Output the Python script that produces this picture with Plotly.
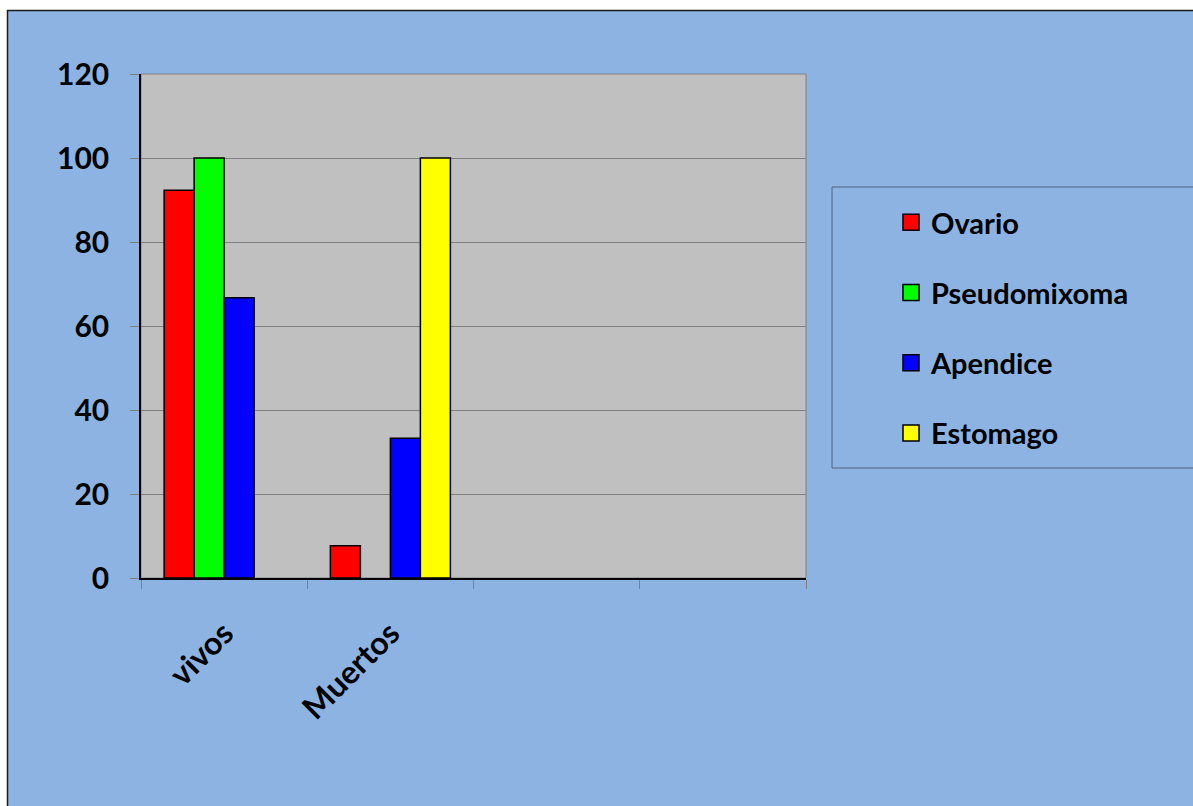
import plotly.graph_objects as go

# ---- data ----
categories = ["vivos", "Muertos", "c3", "c4"]
tick_labels = ["vivos", "Muertos", "", ""]
series_names = ["Ovario", "Pseudomixoma", "Apendice", "Estomago"]
ovario = [92.3, 7.7, None, None]
pseudomixoma = [100, 0, None, None]
apendice = [66.7, 33.3, None, None]
estomago = [0, 100, None, None]
colors = ["#FF0000", "#00FF00", "#0000FF", "#FFFF00"]

W, H = 1193, 806
L, R, T, B = 141, 806, 74, 578  # plot area pixel box


def px(x):
    return (x - L) / (R - L)


def py(y):
    return (B - y) / (B - T)


FONT = "Lato, 'Liberation Sans', Arial, sans-serif"

fig = go.Figure()
for name, vals, c in zip(series_names, [ovario, pseudomixoma, apendice, estomago], colors):
    widths = [1.5 if v else 0 for v in vals]
    fig.add_trace(go.Bar(x=categories, y=vals, name=name,
                         marker=dict(color=c, line=dict(color="black", width=widths)),
                         showlegend=False))
for name, c in zip(series_names, colors):
    fig.add_trace(go.Scatter(x=[None], y=[None], mode="markers", name=name, legendgroup=name,
                             marker=dict(symbol="square", size=17, color=c, line=dict(color="black", width=1.5))))

shapes = [
    # white strips outside the blue chart area
    dict(type="rect", xref="paper", yref="paper", x0=px(-20), x1=px(7), y0=py(900), y1=py(-20),
         fillcolor="white", line=dict(width=0), layer="below"),
    dict(type="rect", xref="paper", yref="paper", x0=px(-20), x1=px(1300), y0=py(10), y1=py(-20),
         fillcolor="white", line=dict(width=0), layer="below"),
    # chart border (top & left)
    dict(type="line", xref="paper", yref="paper", x0=px(7), x1=px(1300), y0=py(10.5), y1=py(10.5),
         line=dict(color="#1A1A1A", width=1.5)),
    dict(type="line", xref="paper", yref="paper", x0=px(7.5), x1=px(7.5), y0=py(10), y1=py(900),
         line=dict(color="#1A1A1A", width=1.5)),
    # plot area border
    dict(type="rect", xref="paper", yref="paper", x0=0, x1=1, y0=0, y1=1,
         line=dict(color="#808080", width=1), layer="below"),
    # legend box
    dict(type="rect", xref="paper", yref="paper", x0=px(832), x1=px(1300), y0=py(468), y1=py(187),
         line=dict(color="#4F6382", width=1), fillcolor="rgba(0,0,0,0)"),
]

fig.update_layout(
    width=W, height=H,
    margin=dict(l=L, r=W - R, t=T, b=H - B, pad=0),
    paper_bgcolor="#8DB3E2",
    plot_bgcolor="#C0C0C0",
    barmode="group",
    bargap=0.278,
    bargroupgap=0,
    shapes=shapes,
    font=dict(family=FONT, color="black"),
    legend=dict(x=px(891), xanchor="left", y=py(197), yanchor="top", bgcolor="rgba(0,0,0,0)",
                borderwidth=0, font=dict(size=29, family=FONT, weight="bold"), tracegroupgap=29.5,
                itemsizing="trace"),
    xaxis=dict(type="category", categoryorder="array", categoryarray=categories,
               tickvals=categories, ticktext=tick_labels, range=[-0.5, 3.5],
               tickson="boundaries", ticks="outside", ticklen=9, tickcolor="#808080",
               tickangle=-45, tickfont=dict(size=32, family=FONT, weight="bold"),
               ticklabelstandoff=22,
               showline=True, linecolor="black", linewidth=1.5, showgrid=False, zeroline=False),
    yaxis=dict(range=[0, 120], dtick=20, ticks="outside", ticklen=9, tickcolor="#808080",
               tickfont=dict(size=30, family=FONT, weight="bold"), ticklabelstandoff=15,
               showline=True, linecolor="black", linewidth=1.5,
               showgrid=True, gridcolor="#808080", gridwidth=1, zeroline=False),
)

fig.write_html("out.html")
